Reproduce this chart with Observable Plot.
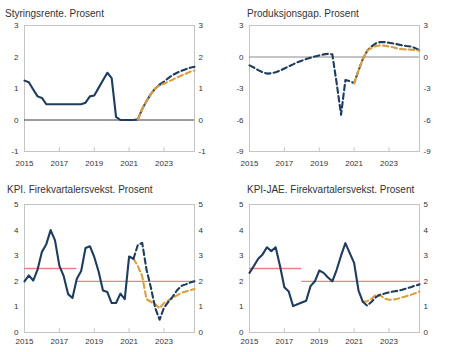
<!DOCTYPE html>
<html><head><meta charset="utf-8">
<script src="https://cdn.jsdelivr.net/npm/d3@7"></script>
<script src="https://cdn.jsdelivr.net/npm/@observablehq/plot@0.6"></script>
<style>
html,body{margin:0;padding:0;background:#fff;}
body{width:450px;height:352px;overflow:hidden;position:relative;font-family:"Liberation Sans",Arial,sans-serif;}
.title{position:absolute;font-size:10px;line-height:10px;color:#333;white-space:nowrap;}
.chart{position:absolute;}
</style></head><body>
<script>
// ---------- data (quarterly, first quarter = 2015Q1) ----------
const lastQuarter = "2024Q4";
const xTicks = [2015, 2017, 2019, 2021, 2023];

const titles = [
  "Styringsrente. Prosent",
  "Produksjonsgap. Prosent",
  "KPI. Firekvartalersvekst. Prosent",
  "KPI-JAE. Firekvartalersvekst. Prosent"
];

// Styringsrente
const rateHistStart = "2015Q1";
const rateHist = [1.25,1.2,0.97,0.75,0.7,0.5,0.5,0.5,0.5,0.5,0.5,0.5,0.5,0.5,0.55,0.75,0.78,1.02,1.26,1.5,1.33,0.1,0,0,0,0,0.02,0.35,0.6,0.83,1.0,1.12];
const rateProjStart = "2022Q4";
const rateProj = [1.12,1.22,1.33,1.43,1.5,1.56,1.61,1.66,1.69];
const rateAltStart = "2021Q3";
const rateAlt = [0.02,0.35,0.6,0.83,1.0,1.1,1.15,1.22,1.28,1.35,1.41,1.47,1.53,1.57];
const rateTicks = [-1, 0, 1, 2, 3];

// Produksjonsgap
const gapStart = "2015Q1";
const gap = [-0.8,-1.0,-1.25,-1.45,-1.58,-1.55,-1.45,-1.3,-1.1,-0.9,-0.7,-0.5,-0.35,-0.2,-0.07,0.05,0.15,0.25,0.3,0.25,-2.5,-5.5,-2.2,-2.3,-2.5,-1.3,-0.2,0.6,1.0,1.3,1.42,1.42,1.35,1.28,1.2,1.12,1.05,1.0,0.85,0.65];
const gapAltStart = "2021Q1";
const gapAlt = [-2.5,-1.3,-0.2,0.6,0.85,1.05,1.1,1.08,1.0,0.92,0.8,0.75,0.72,0.7,0.65,0.6];
const gapTicks = [-9, -6, -3, 0, 3];

// KPI
const cpiHistStart = "2015Q1";
const cpiHist = [2.0,2.23,2.03,2.46,3.15,3.45,4.0,3.6,2.6,2.2,1.5,1.35,2.1,2.4,3.3,3.37,2.95,2.38,1.64,1.58,1.15,1.15,1.52,1.3,2.97,2.88];
const cpiProjStart = "2021Q2";
const cpiProj = [2.88,3.42,3.5,2.45,1.75,0.95,0.5,0.97,1.2,1.4,1.65,1.82,1.88,1.95,2.0];
const cpiAltStart = "2021Q2";
const cpiAlt = [2.88,2.6,2.2,1.3,1.2,1.1,0.95,1.15,1.25,1.35,1.45,1.55,1.6,1.65,1.7];
const cpiTicks = [0, 1, 2, 3, 4, 5];

// KPI-JAE
const coreHistStart = "2015Q1";
const coreHist = [2.33,2.6,2.88,3.05,3.33,3.18,3.33,2.6,1.77,1.6,1.03,1.1,1.17,1.24,1.81,2.0,2.42,2.33,2.15,2.0,2.45,3.0,3.49,3.1,2.72,1.65,1.2];
const coreProjStart = "2021Q3";
const coreProj = [1.2,1.05,1.2,1.38,1.48,1.52,1.57,1.6,1.63,1.67,1.72,1.77,1.83,1.88];
const coreAltStart = "2021Q3";
const coreAlt = [1.2,1.22,1.32,1.48,1.45,1.33,1.28,1.28,1.32,1.37,1.42,1.47,1.53,1.6];

// Inflasjonsmål
const targetValues = [2.5, 2.0];
const targetFrom = ["2015Q1", "2018Q1"];
const targetTo = ["2018Q1", "2024Q4"];

// ---------- helpers ----------
const qTime = q => +q.slice(0, 4) + (+q.slice(5) - 1) / 4;
const series = (start, vals) => vals.map((v, i) => ({t: qTime(start) + i / 4, v}));
const targets = targetValues.map((v, i) => ({v, t1: qTime(targetFrom[i]), t2: qTime(targetTo[i])}));

const BLUE = "#1e3d5e", ORANGE = "#dc9f3e", RED = "#ef7f86", FRAME = "#c4c4c4";
const DASH = "5.5,3.2";

function panel(cfg) {
  const t = document.createElement("div");
  t.className = "title";
  t.style.left = (cfg.left + cfg.titleLeft) + "px";
  t.style.top = cfg.titleTop + "px";
  t.textContent = cfg.title;
  document.body.appendChild(t);

  const [y0, y1] = cfg.yDomain;
  const marks = [
    Plot.frame({stroke: FRAME, strokeWidth: 1}),
    Plot.ruleX(xTicks, {y1: y0, y2: y0 + (y1 - y0) * 0.03, stroke: FRAME})
  ];
  if (cfg.zero) marks.push(Plot.ruleY([0], {stroke: cfg.zero, strokeWidth: 1}));
  if (cfg.targets) marks.push(Plot.ruleY(cfg.targets, {y: "v", x1: "t1", x2: "t2", stroke: RED, strokeWidth: 1.3}));
  for (const s of cfg.lines) {
    marks.push(Plot.line(s.data, {x: "t", y: "v", stroke: s.color, strokeWidth: 2.1,
      strokeDasharray: s.dash ? DASH : null, strokeLinejoin: "round"}));
  }
  const fmt = d => String(d);
  marks.push(
    Plot.axisX({ticks: xTicks, tickFormat: fmt, tickSize: 0, tickPadding: cfg.xPad, label: null, fill: "#333"}),
    Plot.axisY({anchor: "left", ticks: cfg.yTicks, tickFormat: fmt, tickSize: 0, tickPadding: 6, label: null, fill: "#333"}),
    Plot.axisY({anchor: "right", ticks: cfg.yTicks, tickFormat: fmt, tickSize: 0, tickPadding: 4, label: null, fill: "#333"})
  );
  const svg = Plot.plot({
    width: 225, height: cfg.height,
    marginLeft: 24, marginRight: 31, marginTop: cfg.marginTop, marginBottom: cfg.marginBottom,
    style: {fontFamily: "'Liberation Sans', Arial, sans-serif", fontSize: "8px", background: "transparent", color: "#333", overflow: "visible"},
    x: {domain: [qTime("2015Q1"), qTime(lastQuarter)], label: null},
    y: {domain: cfg.yDomain, label: null},
    marks
  });
  const wrap = document.createElement("div");
  wrap.className = "chart";
  wrap.style.left = cfg.left + "px";
  wrap.style.top = cfg.top + "px";
  wrap.appendChild(svg);
  document.body.appendChild(wrap);
}

const topRow = {top: 18, height: 158, marginTop: 7, marginBottom: 25, xPad: 9};
const botRow = {top: 196, height: 156, marginTop: 8, marginBottom: 20, xPad: 6};

panel({...topRow, left: 0, title: titles[0], titleLeft: 5, titleTop: 9,
  yDomain: [-1, 3], yTicks: rateTicks, zero: "#3a3a3a",
  lines: [
    {data: series(rateHistStart, rateHist), color: BLUE},
    {data: series(rateProjStart, rateProj), color: BLUE, dash: true},
    {data: series(rateAltStart, rateAlt), color: ORANGE, dash: true}
  ]});

panel({...topRow, left: 225, title: titles[1], titleLeft: 22, titleTop: 9,
  yDomain: [-9, 3], yTicks: gapTicks, zero: "#8a8a8a",
  lines: [
    {data: series(gapStart, gap), color: BLUE, dash: true},
    {data: series(gapAltStart, gapAlt), color: ORANGE, dash: true}
  ]});

panel({...botRow, left: 0, title: titles[2], titleLeft: 7, titleTop: 185,
  yDomain: [0, 5], yTicks: cpiTicks, targets,
  lines: [
    {data: series(cpiAltStart, cpiAlt), color: ORANGE, dash: true},
    {data: series(cpiHistStart, cpiHist), color: BLUE},
    {data: series(cpiProjStart, cpiProj), color: BLUE, dash: true}
  ]});

panel({...botRow, left: 225, title: titles[3], titleLeft: 22, titleTop: 185,
  yDomain: [0, 5], yTicks: cpiTicks, targets,
  lines: [
    {data: series(coreAltStart, coreAlt), color: ORANGE, dash: true},
    {data: series(coreHistStart, coreHist), color: BLUE},
    {data: series(coreProjStart, coreProj), color: BLUE, dash: true}
  ]});
</script>
</body></html>
